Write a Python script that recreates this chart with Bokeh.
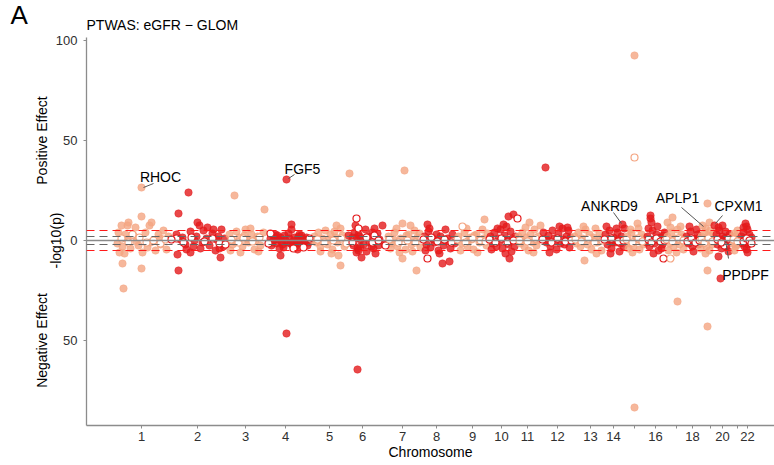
from bokeh.plotting import figure
from bokeh.models import Range1d, FixedTicker, Span, ColumnDataSource, LinearAxis, Title
from bokeh.embed import file_html
from bokeh.resources import INLINE
from bokeh.core.properties import value

FONT = "Liberation Sans"

# Chromosome midpoints on the cumulative genome axis, and their tick labels
CHROM_CENTERS = [141, 197, 245, 285, 329, 362, 402, 436, 472, 501, 527,
                 557, 590, 613, 634, 655, 676, 692, 710, 722, 737, 747]
CHROM_LABELS = ["1", "2", "3", "4", "5", "6", "7", "8", "9", "10", "11",
                "12", "13", "14", "", "16", "", "18", "", "20", "", "22"]

# Per-chromosome gene results: (cumulative position, signed -log10 p)
chr01_filled = [(141, 26.5), (141, 12), (128, 9), (127, 7.5), (135, 6.5), (151, 9), (149, 7.5),
                (121, 7.5), (118, 4), (125, 3), (133, 2.5), (145, 4), (158, 3), (163, 5), (168, 2),
                (117, -1.5), (122, -3), (130, -4), (138, -2.5), (147, -3.5), (155, -5), (160, -2),
                (166, -4.5), (124, -6.5), (119, -6), (142, -6), (122, -11.5), (141, -14),
                (123, -24), (150, -1), (127, 0.5), (136, -0.5), (160, 1)]
chr01_open = [(121, 1), (128, -1), (139, 1.5), (146, -1), (153, 0), (160, -1.5), (165, 0.5), (132, 3)]

chr02_filled = [(188, 24), (178, 13.5), (197, 9), (199, 7.5), (177, -7), (178, -15), (220, -8.5),
                (221, 5.5), (176, 3), (182, 1.5), (185, -2), (190, 4.5), (193, -3), (196, 2),
                (200, -4), (203, 5), (206, 1), (209, -2.5), (212, 3.5), (215, -5), (218, 2),
                (224, 1), (186, -4.5), (207, 6.5), (213, 5.5), (219, -4), (223, -3), (180, 0.5),
                (194, 0), (202, -1), (216, 0.5), (190, -6)]
chr02_open = [(176, 1), (183, -1), (191, 1.5), (204, -0.5), (212, 1), (219, -1.5), (225, -2), (171, 0.5)]

chr03_filled = [(234, 22.5), (264, 15.5), (229, 3), (232, -2), (236, 4.5), (239, 1.5), (242, -3),
                (245, 5.5), (248, -1), (251, 3), (254, -4.5), (257, 2), (260, -2.5), (263, 4),
                (230, -5), (240, -6), (250, 6), (244, 2.5), (258, -5.5), (235, -1), (247, 0.5),
                (255, 0)]
chr03_open = [(231, 0.5), (238, -1), (243, 1), (252, -0.5), (259, 1.5)]

chr04_filled = [(286, 30.5), (286, -46.5), (280, -7.5), (291, 5.5), (291, 8), (270, 1), (272, -1),
                (274, 2), (276, -1.5), (278, 0.5), (280, 1.5), (282, -2), (284, 2.5), (287, -1),
                (289, 1), (292, -2.5), (294, 1.5), (296, -1), (298, 2), (300, -1.5), (302, 1),
                (304, -0.5), (306, 1.5), (308, -1), (310, 0.5), (271, -2.5), (275, 3), (283, -3.5),
                (288, 3.5), (295, -3), (299, 3), (303, -2), (307, -2.5), (285, 0), (297, 0.3),
                (273, 0.2), (293, -0.2), (305, 0), (301, 2.5), (277, 2.5), (281, -0.5),
                (290, -1.5), (279, -4), (297, -4.5)]
chr04_open = [(270, 3.5), (268, -1.5), (293, -4), (303, -3.5), (309, 1)]

chr05_filled = [(349, 33.5), (340, -12.5), (338, -7.5), (314, 2), (316, -1), (318, 4), (320, -3),
                (322, 1), (325, 5), (327, -2), (330, 3), (332, -4.5), (335, 1.5), (337, -1),
                (340, 6), (342, 2.5), (344, -3), (320, -5.5), (328, 0.5), (334, 4.5), (312, 0.3),
                (336, 7.5), (331, -6.5)]
chr05_open = [(317, 0.5), (324, -1), (333, 0), (341, 1), (346, -1.5)]

chr06_filled = [(357, -64.5), (355, 7.5), (354, 4), (358, 3), (361, -8.5), (356, -6), (357, -4),
                (358, -5), (359, 2), (360, -3), (352, 1.5), (350, -1), (365, 5.5), (368, 2),
                (371, -3), (374, 6), (372, 4), (376, 1), (378, -2.5), (363, -2), (366, -5.5),
                (369, -1), (373, -4), (377, 3.5), (348, 2.5), (353, -2.5), (360, 0.5), (356, 1),
                (379, 0.5), (375, -6.5), (382, 7.5), (384, -2)]
chr06_open = [(356, 11), (358, 6), (352, -1), (366, 1.5), (372, -1), (374, 2.5), (378, 0), (385, -2.5)]

chr07_filled = [(404, 35), (416, -15), (402, -9), (402, 8.5), (410, 7.5), (388, 2), (391, -1.5),
                (394, 4), (397, -3), (400, 1), (405, -4.5), (408, 3), (411, -2), (414, 5),
                (417, 1.5), (420, -3.5), (396, 6), (399, -6), (406, 2.5), (412, -5.5), (419, 3.5),
                (393, 0.5), (413, 0), (390, -4)]
chr07_open = [(389, 0.5), (398, -1), (407, 0), (415, -1), (421, 1)]

chr08_filled = [(442, -11.5), (449, -10.5), (427, 8), (424, 2), (426, -2), (428, 4.5), (430, -3.5),
                (432, 1), (434, -1), (436, 3), (438, -5), (440, 2), (443, -2.5), (445, 5.5),
                (447, 1), (450, -4), (452, 3), (429, 6), (439, -6.5), (433, 0.5), (446, -0.5),
                (454, -1.5), (425, -5)]
chr08_open = [(427, -9), (423, 0.5), (431, 1.5), (437, -0.5), (444, 0.5), (451, -1)]

chr09_filled = [(484, 10.5), (458, 2), (461, -1.5), (464, 4), (467, -3), (470, 1.5), (473, -4.5),
                (476, 3), (479, -1), (482, 5.5), (486, -2.5), (460, -5), (466, 6), (471, 0.5),
                (477, -6), (483, 1), (468, 0), (474, 2.5), (487, 3.5)]
chr09_open = [(462, 7), (457, 0.5), (465, -1), (472, 1), (480, 0), (485, -0.5)]

chr10_filled = [(508, 12), (513, 13), (509, -9), (490, 2), (492, -1.5), (494, 4), (496, -3),
                (498, 1), (500, 5.5), (502, -4), (504, 2.5), (506, 7), (508, -2), (510, 4.5),
                (511, -5.5), (512, 1), (514, -3), (503, 8), (505, -6.5), (491, -4.5), (497, 6),
                (507, 0), (499, -0.5), (515, 2)]
chr10_open = [(517, 11), (489, 0.5), (495, -1), (501, 1), (507, -1), (513, 0)]

chr11_filled = [(529, 9), (518, 2), (520, -1.5), (522, 4), (524, -3), (526, 1.5), (528, -5),
                (530, 3), (532, -1), (534, 5.5), (536, -2.5), (538, 2), (525, 6.5), (533, -6),
                (521, 0.5), (537, 0), (540, 7.5)]
chr11_open = [(519, 0), (527, -0.5), (535, 1)]

chr12_filled = [(545, 36.5), (543, 4), (546, -1), (548, 2.5), (550, -3), (552, 5), (554, 1),
                (556, -4.5), (558, 3), (560, -1.5), (562, 6), (564, -2), (566, 2), (568, 5),
                (569, -3.5), (570, 1.5), (549, -6), (559, 7), (567, 6.5), (547, 0), (555, -0.5),
                (563, 0.5)]
chr12_open = [(542, 0.5), (551, -1), (557, 1), (565, -0.5), (571, 0)]

chr13_filled = [(584, -10), (574, 2), (576, -1.5), (578, 4), (580, -3), (582, 1), (585, 5.5),
                (587, -2), (589, 3), (591, -4.5), (593, 1.5), (595, 6), (597, -1), (599, 3.5),
                (601, -5), (583, 7), (596, -6.5), (579, 0.5), (592, 0), (600, 1)]
chr13_open = [(575, 0.5), (581, -0.5), (588, 1), (594, -1), (602, 0)]

chr14_filled = [(622, 8), (605, 3), (607, -2), (609, 5), (611, -4), (613, 1.5), (615, -1),
                (617, 4), (619, -5.5), (621, 2), (623, -3), (624, 6), (606, 7), (610, -6.5),
                (616, 6), (618, 0.5), (614, 0), (620, -1.5), (608, 0.5), (612, -1)]
chr14_open = [(604, 0.5), (611, 1), (618, -0.5), (623, 0)]

chr15_filled = [(634, 92.5), (634, -83.5), (627, 2), (629, -1.5), (631, 4), (633, -3), (635, 1),
                (637, 8.5), (639, -4.5), (641, 3), (643, -2), (630, 5.5), (638, 6), (632, -6),
                (636, 0.5), (640, 0), (644, 1.5), (628, -4)]
chr15_open = [(634, 41.5), (626, 0.5), (632, -1), (638, 1), (642, -0.5)]

chr16_filled = [(650, 12.5), (650, 11), (651, 9), (647, 2), (649, -3), (652, 5), (654, -1.5),
                (656, 3), (658, -5), (660, 1.5), (662, -2), (664, 4), (648, 6), (653, -6.5),
                (657, 7), (661, -4), (655, 0.5), (659, 0), (663, 2.5), (646, -1)]
chr16_open = [(663, -9), (648, 0.5), (651, -1), (656, 1), (660, -0.5), (664, 0)]

chr17_filled = [(677, -30.5), (672, 11.5), (667, 9), (667, 2), (669, -1.5), (671, 4), (673, -3),
                (675, 1), (677, 5.5), (679, -2), (681, 3), (683, -4.5), (670, 6.5), (676, -6),
                (680, 7), (668, -5), (674, 0.5), (678, 0), (682, 1.5), (684, -1)]
chr17_open = [(670, -9), (666, 0.5), (672, -0.5), (678, 1), (683, 0)]

chr18_filled = [(686, 2), (688, -1.5), (690, 4.5), (692, -3), (694, 1), (696, 5.5), (698, -2),
                (689, 7), (693, -5.5), (697, 3), (687, 0.5), (695, 0), (699, 1.5)]
chr18_open = [(687, -0.5), (691, 1), (695, -1), (699, 0)]

chr19_filled = [(707, 18.5), (705, 6), (707, -15), (707, -43), (701, 2), (703, -1.5), (704, 4),
                (706, -3), (708, 2.5), (709, -5), (710, 5), (711, 1), (712, -2), (713, 3.5),
                (702, 7.5), (709, 9), (700, -4), (705, -6.5), (703, 0.5), (711, 0)]
chr19_open = [(701, 0.5), (704, -1), (708, 1), (712, -0.5)]

chr20_filled = [(714, 7.5), (724, 1), (720, -19), (718, -8), (716, 3), (717, -2), (719, 5),
                (721, -4), (722, 2), (723, -1), (725, 4.5), (726, -3), (727, 1.5), (728, -5.5),
                (729, 3), (718, 6.5), (722, 7.5), (720, 0.5), (726, 0)]
chr20_open = [(724, -2.5), (717, 0.5), (721, -1), (728, 1)]

chr21_filled = [(732, 2), (733, -1.5), (734, 3.5), (735, -3), (736, 1), (737, 5), (738, -2),
                (739, 0.5), (734, -5)]
chr21_open = [(733, 0.5), (737, -0.5)]

chr22_filled = [(745, 8.5), (746, 7), (741, 2), (742, -1.5), (743, 4), (744, -3), (745, 1),
                (746, -4.5), (747, 5.5), (748, -2), (749, 3), (750, -1), (751, 1.5), (747, -6),
                (743, 6.5), (744, 0), (748, 0.5)]
chr22_open = [(743, -0.5), (746, 1), (749, 0), (751, -1.5)]

FILLED = [chr01_filled, chr02_filled, chr03_filled, chr04_filled, chr05_filled, chr06_filled,
          chr07_filled, chr08_filled, chr09_filled, chr10_filled, chr11_filled, chr12_filled,
          chr13_filled, chr14_filled, chr15_filled, chr16_filled, chr17_filled, chr18_filled,
          chr19_filled, chr20_filled, chr21_filled, chr22_filled]
OPEN = [chr01_open, chr02_open, chr03_open, chr04_open, chr05_open, chr06_open, chr07_open,
        chr08_open, chr09_open, chr10_open, chr11_open, chr12_open, chr13_open, chr14_open,
        chr15_open, chr16_open, chr17_open, chr18_open, chr19_open, chr20_open, chr21_open,
        chr22_open]

# Labelled genes and the hits they point at
GENE_NAMES = ["RHOC", "FGF5", "ANKRD9", "APLP1", "CPXM1", "PPDPF"]
GENE_POS = [141, 286, 622, 705, 714, 724]
GENE_LOGP = [26.5, 30.5, 8, 6, 7.5, 1]

# Significance thresholds
NOMINAL = 2
GENOME_WIDE = 5

ODD_COLOR = "#F4A582"
EVEN_COLOR = "#E31A1C"

# label placement in pixels relative to the hit: text centre, leader start, leader end
LABEL_OFFSETS = [(19, -11), (16, -11), (-13, -18.5), (-28, -31), (24, -20), (21, 36)]
LEADER_START = [(2, 0), (2, -1), (-1, -1), (-2, -2), (1, -2), (1, 2)]
LEADER_END = [(12, -4), (8, -5), (-9, -12), (-24, -21), (8, -10), (4, 20)]

X0, X1 = 86, 774
Y0, Y1 = -92.5, 101.5
PX_PER_Y = 2.0  # frame is 388 px tall for 194 units

p = figure(width=774, height=465, output_backend="svg", toolbar_location=None,
           x_range=Range1d(X0, X1), y_range=Range1d(Y0, Y1), title_location=None,
           min_border_left=86, min_border_right=0, min_border_top=37, min_border_bottom=40)
p.outline_line_color = None
p.grid.visible = False
p.background_fill_color = "white"

# reference lines
p.add_layout(Span(location=0, dimension="width", line_color="#8a8a8a", line_width=1.6))
for s in (1, -1):
    p.add_layout(Span(location=s * NOMINAL, dimension="width", line_color="#666666",
                      line_width=1.2, line_dash="8 5"))
    p.add_layout(Span(location=s * GENOME_WIDE, dimension="width", line_color="#FF1A1A",
                      line_width=1.2, line_dash="8 5"))


def flatten(groups):
    xs, ys, cs = [], [], []
    for i, grp in enumerate(groups):
        col = ODD_COLOR if i % 2 == 0 else EVEN_COLOR
        for x, y in grp:
            xs.append(x)
            ys.append(y)
            cs.append(col)
    return ColumnDataSource(dict(x=xs, y=ys, c=cs))


filled_src = flatten(FILLED)
open_src = flatten(OPEN)

p.scatter("x", "y", source=filled_src, size=7.5, fill_color="c", fill_alpha=0.8,
          line_color="c", line_alpha=0.8, line_width=0.5)
p.scatter("x", "y", source=open_src, size=7, fill_color="white", fill_alpha=1,
          line_color="c", line_width=1.2)

# gene labels with leader lines
tx, ty, sx0, sy0, sx1, sy1 = [], [], [], [], [], []
for gx, gy, (dx, dy), (ax, ay), (bx, by) in zip(GENE_POS, GENE_LOGP, LABEL_OFFSETS,
                                                 LEADER_START, LEADER_END):
    tx.append(gx + dx)
    ty.append(gy - dy / PX_PER_Y)
    sx0.append(gx + ax)
    sy0.append(gy - ay / PX_PER_Y)
    sx1.append(gx + bx)
    sy1.append(gy - by / PX_PER_Y)
p.segment(sx0, sy0, sx1, sy1, line_color="#555555", line_width=1)
p.text(tx, ty, text=GENE_NAMES, text_font=value(FONT), text_font_size="14px",
       text_color="black", text_align="center", text_baseline="middle")

# axes
AXIS_COLOR = "#8c8c8c"
for ax in (p.xaxis[0], p.yaxis[0]):
    ax.axis_line_color = AXIS_COLOR
    ax.axis_line_width = 1.3
    ax.major_tick_line_color = AXIS_COLOR
    ax.major_tick_out = 3
    ax.major_tick_in = 0
    ax.minor_tick_line_color = None
    ax.major_label_text_font = FONT
    ax.major_label_text_font_size = "13px"
    ax.major_label_text_color = "#303030"

p.yaxis.ticker = FixedTicker(ticks=[-50, 0, 50, 100])
p.yaxis.major_label_overrides = {-50: "50", 0: "0", 50: "50", 100: "100"}
p.yaxis.major_label_standoff = 6

p.xaxis.ticker = FixedTicker(ticks=CHROM_CENTERS)
p.xaxis.major_label_overrides = {c: l for c, l in zip(CHROM_CENTERS, CHROM_LABELS)}
p.xaxis.major_label_standoff = 3
p.xaxis.axis_label = "Chromosome"
p.xaxis.axis_label_text_font = FONT
p.xaxis.axis_label_text_font_size = "14px"
p.xaxis.axis_label_text_font_style = "normal"
p.xaxis.axis_label_text_color = "black"
p.xaxis.axis_label_standoff = 0


def text_axis(ticks, labels, standoff):
    """A bare left axis that only carries vertical text at the given y values."""
    axis = LinearAxis(ticker=FixedTicker(ticks=ticks),
                      major_label_overrides=dict(zip(ticks, labels)),
                      major_label_orientation="vertical", major_label_standoff=standoff,
                      axis_line_color=None, major_tick_line_color=None,
                      minor_tick_line_color=None, major_tick_out=0, major_tick_in=0,
                      major_label_text_font=FONT, major_label_text_font_size="14px",
                      major_label_text_color="black")
    p.add_layout(axis, "left")


text_axis([0], ["-log10(p)"], -11)
text_axis([50, -50], ["Positive Effect", "Negative Effect"], -5)

# panel letter and plot title
p.add_layout(Title(text="PTWAS: eGFR \u2212 GLOM", align="left", offset=0, standoff=9,
                   text_font=FONT, text_font_size="14px", text_font_style="normal",
                   text_color="black"), "above")
p.add_layout(Title(text="A", align="left", offset=-76, standoff=-39,
                   text_font=FONT, text_font_size="26px", text_font_style="normal",
                   text_color="black"), "above")

open("out.html", "w").write(file_html(p, INLINE))
